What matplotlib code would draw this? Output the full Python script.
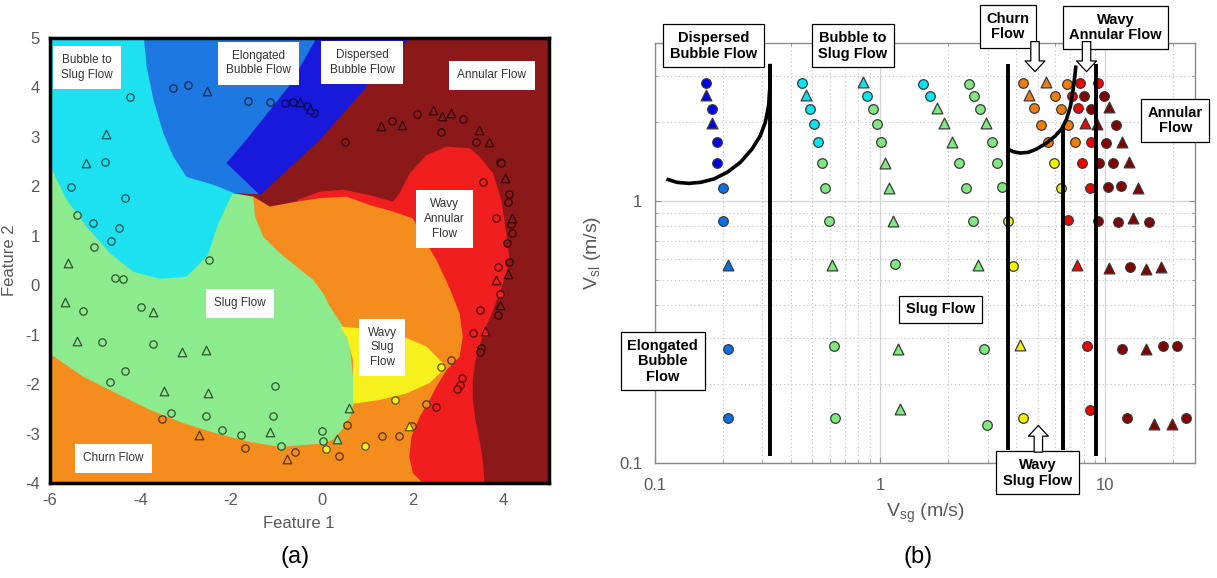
import matplotlib
matplotlib.use("Agg")
import matplotlib.pyplot as plt
import matplotlib.colors as mcolors
from matplotlib.patches import Polygon

plt.rcParams['font.family'] = ['Liberation Sans', 'DejaVu Sans']
plt.rcParams['mathtext.fontset'] = 'custom'
plt.rcParams['mathtext.rm'] = 'Liberation Sans'
plt.rcParams['axes.unicode_minus'] = False

# regime keys: DB dispersed bubble, EB elongated bubble, BS bubble to slug, S slug,
# C churn, WS wavy slug, WA wavy annular, A annular
map_col = {'DB': '#1919dc', 'EB': '#1e78e1', 'BS': '#1ee1f0', 'S': '#8ceb8c',
           'C': '#f58c1e', 'WS': '#f5f01e', 'WA': '#f01e1e', 'A': '#8c1919'}
pt_col = {'DB': '#0000e6', 'EB': '#0a6fe0', 'BS': '#00e5ee', 'S': '#80e880',
          'C': '#f07d0a', 'WS': '#f0f000', 'WA': '#f00000', 'A': '#800000'}

# ---------- (a) classifier regions in feature space (painted bottom to top) ----------
reg_a = [(-6, -4), (5, -4), (5, 5), (-6, 5)]
reg_wa = [(-0.55, 1.72), (-0.04, 1.89), (0.47, 1.93), (1.06, 1.82), (1.57, 1.69), (1.72, 1.86),
          (1.94, 2.26), (2.31, 2.63), (2.75, 2.80), (3.26, 2.77), (3.48, 2.60), (3.78, 2.26),
          (3.96, 1.72), (4.07, 1.05), (4.14, 0.51), (4.03, 0.11), (3.78, -0.50), (3.55, -1.01),
          (3.39, -1.51), (3.33, -1.92), (3.33, -2.32), (3.39, -2.73), (3.48, -3.13), (3.55, -3.54),
          (3.59, -4.0), (0.0, -4.0), (0.0, 1.5)]
reg_c = [(-1.51, 1.79), (-1.14, 1.59), (-0.55, 1.69), (-0.04, 1.76), (0.55, 1.79), (1.06, 1.62),
         (1.57, 1.49), (2.01, 1.35), (2.23, 0.98), (2.53, 0.51), (2.82, -0.06), (3.04, -0.57),
         (3.11, -1.04), (3.04, -1.45), (2.75, -1.72), (2.53, -2.05), (2.38, -2.32), (2.16, -2.66),
         (1.98, -3.06), (1.93, -3.47), (2.01, -3.80), (2.23, -4.0), (-6.0, -4.0), (-6.0, 0.0),
         (-2.2, 1.3)]
reg_s = [(-6.0, 2.43), (-6.0, -1.38), (-5.26, -1.85), (-4.52, -2.19), (-3.79, -2.52), (-3.05, -2.79),
         (-2.32, -3.00), (-1.58, -3.17), (-0.92, -3.27), (0.03, -3.20), (0.25, -3.12), (0.45, -2.92),
         (0.62, -2.66), (0.73, -2.32), (0.69, -1.85), (0.62, -1.24), (0.47, -0.84), (0.18, -0.43),
         (0.03, -0.16), (-0.19, 0.11), (-0.55, 0.37), (-0.92, 0.65), (-1.29, 0.98), (-1.47, 1.39),
         (-1.51, 1.79), (-1.95, 1.86), (-4.0, 2.0)]
reg_eb = [(-4.01, 5.0), (0.18, 5.0), (-0.92, 2.94), (-1.40, 1.84), (-1.95, 1.86), (-3.13, 2.13),
          (-4.01, 3.75)]
reg_db = [(-2.10, 2.47), (-1.66, 2.94), (-0.70, 4.05), (-0.11, 5.0), (1.94, 5.0), (0.99, 4.01),
          (-0.04, 2.94), (-0.92, 2.19), (-1.36, 1.82)]
reg_bs = [(-6.0, 5.0), (-3.92, 5.0), (-3.86, 4.42), (-3.71, 3.75), (-3.49, 3.07), (-3.27, 2.60),
          (-2.98, 2.19), (-2.39, 2.03), (-1.95, 1.87), (-2.07, 1.66), (-2.29, 1.22), (-2.51, 0.61),
          (-2.98, 0.17), (-3.57, 0.13), (-4.15, 0.27), (-4.67, 0.65), (-5.18, 1.18), (-5.62, 1.72),
          (-6.0, 2.43)]
reg_ws = [(0.40, -0.84), (0.84, -0.87), (1.87, -1.07), (2.31, -1.24), (2.75, -1.65), (2.38, -1.98),
          (1.87, -2.19), (1.28, -2.32), (0.77, -2.39), (0.69, -2.39), (0.69, -1.51), (0.55, -1.04)]

# samples in feature space: (feature 1, feature 2, marker)
pts_bs = [(-4.23, 3.81, 'o'), (-4.76, 3.05, '^'), (-5.20, 2.48, '^'), (-4.78, 2.50, 'o'),
          (-5.53, 1.99, 'o'), (-4.34, 1.76, 'o'), (-5.05, 1.25, 'o'), (-4.46, 1.15, 'o'),
          (-4.65, 0.89, 'o')]
pts_eb = [(-3.27, 3.98, 'o'), (-2.94, 4.04, 'o'), (-2.52, 3.93, '^'), (-1.63, 3.73, 'o'),
          (-1.14, 3.71, 'o')]
pts_db = [(-0.81, 3.69, 'o'), (-0.63, 3.71, 'o'), (-0.47, 3.70, '^'), (-0.33, 3.62, 'o'),
          (-0.25, 3.56, '^'), (-0.17, 3.48, 'o')]
pts_s = [(-5.39, 1.42, 'o'), (-5.02, 0.77, 'o'), (-5.59, 0.44, '^'), (-2.48, 0.50, 'o'),
         (-4.56, 0.14, 'o'), (-4.39, 0.12, 'o'), (-5.67, -0.35, '^'), (-5.26, -0.52, 'o'),
         (-3.98, -0.45, 'o'), (-3.71, -0.54, '^'), (-5.39, -1.13, '^'), (-4.85, -1.14, 'o'),
         (-3.73, -1.18, 'o'), (-3.09, -1.35, '^'), (-2.54, -1.31, '^'), (-4.34, -1.74, 'o'),
         (-4.67, -1.96, 'o'), (-3.48, -2.15, '^'), (-2.50, -2.19, '^'), (-1.02, -2.04, 'o'),
         (-3.32, -2.59, 'o'), (-2.54, -2.65, 'o'), (-1.07, -2.65, 'o'), (-2.19, -2.93, 'o'),
         (-1.78, -3.02, 'o'), (-1.14, -2.96, '^'), (-0.90, -3.25, 'o'), (0.00, -2.94, 'o'),
         (0.02, -3.15, 'o'), (0.33, -3.11, '^'), (0.60, -2.49, '^')]
pts_c = [(-3.52, -2.71, 'o'), (-2.71, -3.03, '^'), (-1.68, -3.30, 'o'), (-0.76, -3.52, '^'),
         (-0.59, -3.37, 'o'), (0.38, -3.45, 'o'), (0.55, -2.83, 'o'), (1.32, -3.06, 'o'),
         (1.70, -3.04, 'o'), (1.98, -2.85, 'o'), (2.29, -2.40, 'o'), (2.86, -1.51, 'o')]
pts_ws = [(2.62, -1.65, 'o'), (1.61, -2.32, 'o'), (1.93, -2.85, '^'), (0.95, -3.25, 'o'),
          (0.09, -3.31, 'o')]
pts_wa = [(3.55, 2.08, 'o'), (3.85, 1.35, 'o'), (3.89, 0.36, 'o'), (3.84, 0.11, '^'),
          (3.92, -0.17, 'o'), (3.48, -0.51, 'o'), (3.33, -0.97, 'o'), (3.61, -0.93, '^'),
          (3.10, -1.88, 'o'), (3.04, -2.02, 'o'), (2.99, -2.10, 'o'), (2.51, -2.47, 'o')]
pts_a = [(0.52, 2.90, 'o'), (1.30, 3.21, '^'), (1.54, 3.32, 'o'), (1.78, 3.24, '^'),
         (2.09, 3.46, 'o'), (2.45, 3.54, '^'), (2.65, 3.42, '^'), (2.84, 3.48, '^'),
         (2.63, 3.10, 'o'), (3.11, 3.36, 'o'), (3.46, 3.14, '^'), (3.41, 2.90, 'o'),
         (3.69, 2.90, '^'), (3.92, 2.50, 'o'), (3.95, 2.47, 'o'), (4.05, 2.16, '^'),
         (4.13, 1.84, 'o'), (4.11, 1.68, 'o'), (4.19, 1.35, '^'), (4.17, 1.24, 'o'),
         (4.19, 1.05, 'o'), (4.09, 0.86, 'o'), (4.13, 0.46, 'o'), (4.11, 0.22, '^'),
         (3.94, -0.40, '^'), (3.89, -0.60, 'o'), (3.52, -1.28, 'o'), (3.50, -1.35, 'o')]

labels_a = [("Bubble to\nSlug Flow", -5.18, 4.40), ("Elongated\nBubble Flow", -1.39, 4.49),
            ("Dispersed\nBubble Flow", 0.89, 4.50), ("Annular Flow", 3.75, 4.24),
            ("Wavy\nAnnular\nFlow", 2.70, 1.34), ("Slug Flow", -1.80, -0.37),
            ("Wavy\nSlug\nFlow", 1.33, -1.26), ("Churn Flow", -4.59, -3.50)]

# ---------- (b) flow pattern map: test runs (Vsg, Vsl, marker, regime) ----------
col_a = [(0.169, 2.81, 'o', 'DB'), (0.169, 2.54, '^', 'DB'), (0.179, 2.25, 'o', 'DB'),
         (0.179, 1.98, '^', 'DB'), (0.189, 1.67, 'o', 'DB'), (0.189, 1.40, 'o', 'DB'),
         (0.200, 1.12, 'o', 'EB'), (0.200, 0.834, 'o', 'EB'), (0.210, 0.568, '^', 'EB'),
         (0.210, 0.271, 'o', 'EB'), (0.210, 0.149, 'o', 'EB')]
col_b = [(0.451, 2.81, 'o', 'BS'), (0.470, 2.54, '^', 'BS'), (0.489, 2.25, 'o', 'BS'),
         (0.510, 1.965, 'o', 'BS'), (0.527, 1.67, 'o', 'BS'), (0.551, 1.40, 'o', 'S'),
         (0.570, 1.12, 'o', 'S'), (0.590, 0.834, 'o', 'S'), (0.611, 0.568, '^', 'S'),
         (0.621, 0.279, 'o', 'S'), (0.627, 0.149, 'o', 'S')]
col_c = [(0.838, 2.84, '^', 'BS'), (0.878, 2.52, 'o', 'BS'), (0.928, 2.25, 'o', 'S'),
         (0.967, 1.965, 'o', 'S'), (1.007, 1.67, 'o', 'S'), (1.052, 1.40, '^', 'S'),
         (1.096, 1.12, '^', 'S'), (1.145, 0.839, '^', 'S'), (1.166, 0.573, 'o', 'S'),
         (1.206, 0.273, '^', 'S'), (1.227, 0.161, '^', 'S')]
col_d = [(1.547, 2.80, 'o', 'BS'), (1.666, 2.52, 'o', 'BS'), (1.795, 2.26, '^', 'S'),
         (1.928, 1.98, '^', 'S'), (2.080, 1.68, '^', 'S'), (2.240, 1.40, 'o', 'S'),
         (2.399, 1.12, 'o', 'S'), (2.593, 0.839, 'o', 'S'), (2.729, 0.568, '^', 'S'),
         (2.901, 0.271, 'o', 'S'), (2.973, 0.140, 'o', 'S')]
col_e = [(2.489, 2.80, 'o', 'S'), (2.619, 2.52, 'o', 'S'), (2.776, 2.25, 'o', 'S'),
         (2.952, 1.98, '^', 'S'), (3.129, 1.67, 'o', 'S'), (3.292, 1.40, 'o', 'S'),
         (3.465, 1.125, 'o', 'S'), (3.707, 0.839, 'o', 'WS'), (3.901, 0.564, 'o', 'WS'),
         (4.177, 0.281, '^', 'WS'), (4.294, 0.149, 'o', 'WS')]
col_f = [(4.320, 2.81, 'o', 'C'), (4.594, 2.54, '^', 'C'), (4.835, 2.26, 'o', 'C'),
         (5.176, 1.95, 'o', 'C'), (5.542, 1.67, 'o', 'C'), (5.910, 1.40, 'o', 'WS'),
         (6.348, 1.12, 'o', 'WS'), (6.840, 0.846, 'o', 'WA'), (7.453, 0.568, '^', 'WA'),
         (8.253, 0.279, 'o', 'WA'), (8.536, 0.159, 'o', 'WA')]
col_g = [(5.446, 2.84, '^', 'C'), (5.970, 2.52, 'o', 'C'), (6.348, 2.25, 'o', 'C'),
         (6.798, 1.95, 'o', 'C'), (7.323, 1.67, 'o', 'C'), (7.890, 1.40, 'o', 'WA'),
         (8.536, 1.12, 'o', 'WA'), (9.292, 0.839, 'o', 'A'), (10.39, 0.556, '^', 'A'),
         (11.87, 0.271, 'o', 'A'), (12.54, 0.149, 'o', 'A')]
col_h = [(6.729, 2.80, 'o', 'C'), (7.081, 2.52, 'o', 'WA'), (7.530, 2.26, 'o', 'WA'),
         (8.112, 1.98, '^', 'WA'), (8.624, 1.67, 'o', 'WA'), (9.358, 1.40, 'o', 'A'),
         (10.29, 1.125, 'o', 'A'), (11.40, 0.827, 'o', 'A'), (12.84, 0.561, 'o', 'A'),
         (15.08, 0.273, '^', 'A'), (16.41, 0.141, '^', 'A')]
col_i = [(7.707, 2.81, 'o', 'WA'), (8.029, 2.52, 'o', 'A'), (8.598, 2.25, 'o', 'A'),
         (9.197, 1.965, '^', 'A'), (10.02, 1.66, 'o', 'A'), (10.83, 1.40, 'o', 'A'),
         (11.68, 1.135, 'o', 'A'), (13.28, 0.859, '^', 'A'), (15.08, 0.548, '^', 'A'),
         (17.94, 0.279, 'o', 'A'), (19.79, 0.141, '^', 'A')]
col_j = [(9.292, 2.81, 'o', 'WA'), (9.848, 2.52, 'o', 'A'), (10.39, 2.28, '^', 'A'),
         (11.10, 1.95, 'o', 'A'), (11.87, 1.68, '^', 'A'), (12.75, 1.41, '^', 'A'),
         (13.98, 1.12, '^', 'A'), (15.64, 0.827, 'o', 'A'), (17.63, 0.559, '^', 'A'),
         (20.90, 0.279, 'o', 'A'), (22.92, 0.149, 'o', 'A')]

# transition boundaries drawn on the map (Vsg, Vsl)
curve1_vsg = [0.1125, 0.1254, 0.1412, 0.1591, 0.1823, 0.2090, 0.2394, 0.2698, 0.2937, 0.3090, 0.3196, 0.3240, 0.3250]
curve1_vsl = [1.211, 1.176, 1.166, 1.176, 1.211, 1.284, 1.402, 1.577, 1.773, 1.994, 2.308, 2.754, 3.333]
curve2_vsg = [3.684, 3.901, 4.177, 4.547, 4.954, 5.486, 5.970, 6.394, 6.729, 7.010, 7.198, 7.323, 7.399]
curve2_vsl = [1.577, 1.539, 1.522, 1.531, 1.577, 1.663, 1.764, 1.880, 2.053, 2.308, 2.674, 3.006, 3.283]
vlines_vsg = [0.325, 3.684, 6.50, 9.08]
vlines_top = [3.33, 3.33, 1.91, 3.33]
vlines_bot = [0.106, 0.112, 0.112, 0.106]

labels_b = [("Dispersed\nBubble Flow", 0.1817, 3.905), ("Bubble to\nSlug Flow", 0.755, 3.905),
            ("Churn\nFlow", 3.684, 4.617), ("Wavy\nAnnular Flow", 11.10, 4.587),
            ("Annular\nFlow", 20.43, 2.026), ("Elongated\nBubble\nFlow", 0.1083, 0.2444),
            ("Slug Flow", 1.855, 0.3854), ("Wavy\nSlug Flow", 4.994, 0.0918)]
# block arrows: (Vsg, Vsl tail, Vsl tip)
arrows_b = [(4.87, 4.05, 3.11), (8.25, 4.05, 3.11), (5.04, 0.110, 0.139)]


def darker(c, f=0.35):
    r, g, b = mcolors.to_rgb(c)
    return (r * f, g * f, b * f)


gray = '#595959'
fig = plt.figure(figsize=(12.17, 5.78), dpi=100)

# ---- panel (a)
ax1 = fig.add_axes([0.0407, 0.1644, 0.41, 0.77])
for poly, key in [(reg_a, 'A'), (reg_wa, 'WA'), (reg_c, 'C'), (reg_s, 'S'), (reg_eb, 'EB'),
                  (reg_db, 'DB'), (reg_bs, 'BS'), (reg_ws, 'WS')]:
    ax1.add_patch(Polygon(poly, closed=True, fc=map_col[key], ec='none', lw=0, zorder=1))

for pts, key in [(pts_bs, 'BS'), (pts_eb, 'EB'), (pts_db, 'DB'), (pts_s, 'S'), (pts_c, 'C'),
                 (pts_ws, 'WS'), (pts_wa, 'WA'), (pts_a, 'A')]:
    for mk, sz in [('o', 28), ('^', 38)]:
        xs = [p[0] for p in pts if p[2] == mk]
        ys = [p[1] for p in pts if p[2] == mk]
        ax1.scatter(xs, ys, s=sz, marker=mk, color=map_col[key], edgecolors=[darker(map_col[key])],
                    linewidths=0.9, zorder=3)

for txt, x, y in labels_a:
    ax1.text(x, y, txt, ha='center', va='center', fontsize=8.5, color='#333333', linespacing=1.3,
             zorder=5, bbox=dict(boxstyle='square,pad=0.7', fc='white', ec='none'))

ax1.set_xlim(-6, 5)
ax1.set_ylim(-4, 5)
ax1.set_xticks([-6, -4, -2, 0, 2, 4])
ax1.set_yticks(range(-4, 6))
ax1.tick_params(length=0, labelsize=12, labelcolor=gray, pad=7)
for sp in ax1.spines.values():
    sp.set_linewidth(2.5)
    sp.set_color('black')
    sp.set_zorder(6)
ax1.set_xlabel('Feature 1', fontsize=12, color=gray, labelpad=6)
ax1.set_ylabel('Feature 2', fontsize=12, color=gray, labelpad=6)

# ---- panel (b)
ax2 = fig.add_axes([0.5382, 0.199, 0.4437, 0.7266])
ax2.set_xscale('log')
ax2.set_yscale('log')
ax2.set_xlim(0.1, 25)
ax2.set_ylim(0.1, 4)
ax2.set_axisbelow(True)
ax2.grid(which='major', color='#d4d4d4', lw=0.9, ls='-')
ax2.grid(which='minor', color='#bdbdbd', lw=0.8, ls=(0, (1, 2.5)))

for col in [col_a, col_b, col_c, col_d, col_e, col_f, col_g, col_h, col_i, col_j]:
    for vsg, vsl, mk, key in col:
        ax2.scatter([vsg], [vsl], s=48 if mk == 'o' else 60, marker=mk, color=pt_col[key],
                    edgecolors='#3a3a3a', linewidths=0.9, zorder=3)

ax2.plot(curve1_vsg, curve1_vsl, color='black', lw=2.6, zorder=4, solid_capstyle='butt')
ax2.plot(curve2_vsg, curve2_vsl, color='black', lw=2.6, zorder=4, solid_capstyle='butt')
ax2.vlines(vlines_vsg, vlines_bot, vlines_top, color='black', lw=2.8, zorder=4)

for txt, x, y in labels_b:
    ax2.text(x, y, txt, ha='center', va='center', fontsize=10.5, fontweight='bold', color='black',
             linespacing=1.15, zorder=6, clip_on=False,
             bbox=dict(boxstyle='square,pad=0.45', fc='white', ec='black', lw=0.9))

for x, y0, y1 in arrows_b:
    ax2.annotate('', xy=(x, y1), xytext=(x, y0), annotation_clip=False, zorder=7,
                 arrowprops=dict(arrowstyle='simple,head_length=0.7,head_width=1.3,tail_width=0.55',
                                 fc='white', ec='black', lw=0.9, shrinkA=0, shrinkB=0,
                                 mutation_scale=11))

ax2.set_xticks([0.1, 1, 10])
ax2.set_xticklabels(['0.1', '1', '10'])
ax2.set_yticks([0.1, 1])
ax2.set_yticklabels(['0.1', '1'])
ax2.tick_params(which='both', direction='in', top=True, right=True, color='#8c8c8c',
                labelcolor=gray, labelsize=12)
ax2.tick_params(axis='x', which='major', length=4, pad=11)
ax2.tick_params(axis='y', which='major', length=4, pad=9)
ax2.tick_params(which='minor', length=2, labelleft=False, labelbottom=False)
for sp in ax2.spines.values():
    sp.set_color('#8c8c8c')
    sp.set_linewidth(1.0)
ax2.set_xlabel(r'V$_{\mathrm{sg}}$ (m/s)', fontsize=14, color=gray, labelpad=6)
ax2.set_ylabel(r'V$_{\mathrm{sl}}$ (m/s)', fontsize=14, color=gray, labelpad=12)

fig.text(295 / 1217, 1 - 557 / 578, '(a)', ha='center', va='center', fontsize=17)
fig.text(918 / 1217, 1 - 557 / 578, '(b)', ha='center', va='center', fontsize=17)

fig.savefig('out.png', dpi=100)
